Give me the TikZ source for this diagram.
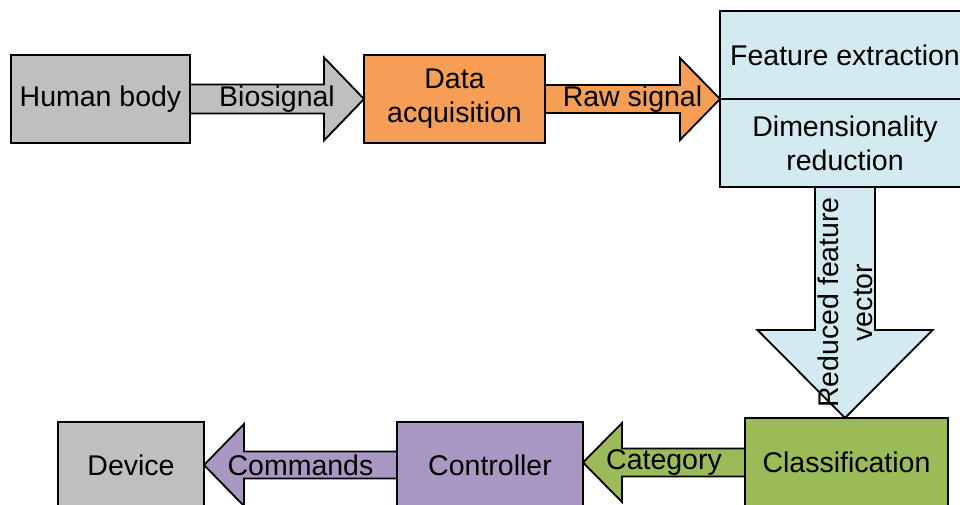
\documentclass[tikz,border=0pt]{standalone}
\usepackage{fontspec}
\setmainfont{Liberation Sans}
\usetikzlibrary{calc}

\definecolor{bodygray}{HTML}{BFBFBF}
\definecolor{acqorange}{HTML}{F69E55}
\definecolor{featblue}{HTML}{D3EAF1}
\definecolor{classgreen}{HTML}{9BBB59}
\definecolor{ctrlpurple}{HTML}{A998C4}

\pgfdeclarelayer{back}
\pgfsetlayers{back,main}

\tikzset{
  blk/.style={draw=black, line width=1.8pt, inner sep=0pt, outer sep=0pt,
    align=center, font=\fontsize{28.5}{34}\selectfont},
  lbl/.style={inner sep=0pt, align=center, font=\fontsize{28.5}{34}\selectfont},
  fat/.style={draw=black, line width=1.8pt, line join=miter}
}

% horizontal block arrow: start, tip, shaft half-height, head half-height,
% signed x offset of the head base from the tip, fill colour
\newcommand\harrow[6]{%
  \filldraw[fat, fill=#6] ($(#1)+(0,-#3)$) -- ($(#2)+(#5,-#3)$)
    -- ($(#2)+(#5,-#4)$) -- (#2) -- ($(#2)+(#5,#4)$)
    -- ($(#2)+(#5,#3)$) -- ($(#1)+(0,#3)$);}

\begin{document}
\begin{tikzpicture}[x=1pt,y=-1pt]
\useasboundingbox (0,0) rectangle (960,505);
\clip (0,0) rectangle (960,505);

% processing blocks
\node[blk, fill=bodygray,   minimum width=179pt, minimum height=88pt] (human)  at (100.5,99)  {Human body};
\node[blk, fill=acqorange,  minimum width=181pt, minimum height=88pt] (daq)    at (454.5,99)  {Data\\acquisition};
\node[blk, fill=featblue,   minimum width=250pt, minimum height=88pt] (featext) at (845,55)   {Feature extraction};
\node[blk, fill=featblue,   minimum width=250pt, minimum height=88pt] (dimred) at (845,143)   {Dimensionality\\reduction};
\node[blk, fill=classgreen, minimum width=203pt, minimum height=89pt] (classif) at (846.5,462.5) {Classification};
\node[blk, fill=ctrlpurple, minimum width=186pt, minimum height=86pt] (ctrl)   at (490,465)   {Controller};
\node[blk, fill=bodygray,   minimum width=146pt, minimum height=86pt] (device) at (131,465)   {Device};

\coordinate (fvtip) at (dimred.south |- classif.north);
\coordinate (cattip) at (ctrl.east |- classif.west);

% block arrows between the stages
\begin{pgfonlayer}{back}
  \harrow{human.east}{daq.west}{14.5}{41.5}{-40}{bodygray}
  \harrow{daq.east}{featext.south west}{14}{41}{-40}{acqorange}
  \harrow{classif.west}{cattip}{14}{39.5}{39}{classgreen}
  \harrow{ctrl.west}{device.east}{13.5}{41}{40}{ctrlpurple}
  \filldraw[fat, fill=featblue] ($(dimred.south)+(-30,0)$) -- ($(fvtip)+(-30,-88)$)
    -- ($(fvtip)+(-87.5,-88)$) -- (fvtip) -- ($(fvtip)+(87.5,-88)$)
    -- ($(fvtip)+(30,-88)$) -- ($(dimred.south)+(30,0)$);
\end{pgfonlayer}

% arrow labels
\node[lbl] (lbio) at ($(human.east)!0.5!(daq.west)$) {Biosignal};
\node[lbl] (lraw) at ($(daq.east)!0.5!(featext.south west)$) {Raw signal};
\node[lbl] (lcat) at ($(classif.west)!0.5!(cattip)$) {Category};
\node[lbl] (lcmd) at ($(ctrl.west)!0.5!(device.east)$) {Commands};
\node[lbl, rotate=90] (lvec) at ($(dimred.south)!0.5!(fvtip)$) {Reduced feature\\vector};
\end{tikzpicture}
\end{document}
